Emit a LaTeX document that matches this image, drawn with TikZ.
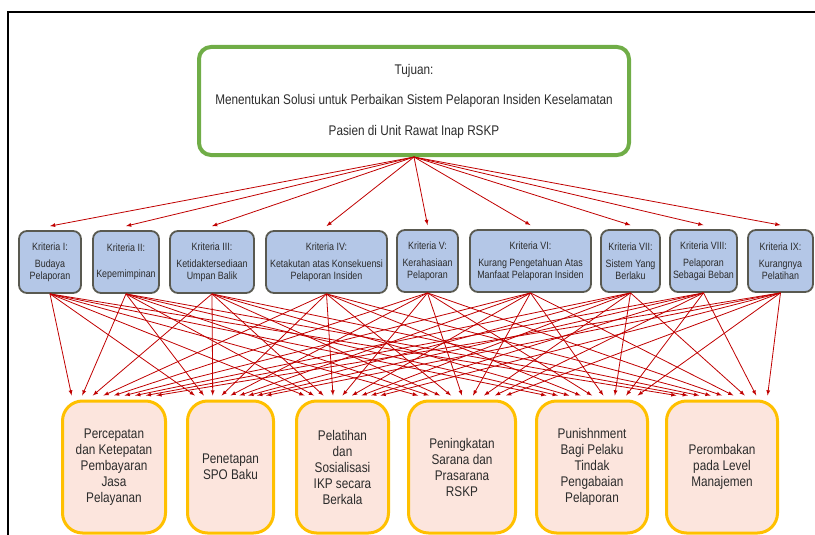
\documentclass[tikz,border=0pt]{standalone}
\usepackage{fontspec}
\setmainfont[FakeStretch=0.84]{Liberation Sans}
\usetikzlibrary{calc}
\definecolor{hijau}{HTML}{70AD47}
\definecolor{biru}{HTML}{B4C7E7}
\definecolor{abu}{HTML}{595950}
\definecolor{oranye}{HTML}{FFC000}
\definecolor{merahmuda}{HTML}{FCE5DD}
\definecolor{merah}{HTML}{C00000}
\definecolor{teks}{HTML}{2B2B2B}
\begin{document}
\begin{tikzpicture}[x=1pt,y=-1pt]
	\tikzset{
		every node/.style={text=teks,align=center},
		%
		tujuan/.style={draw=hijau,line width=4pt,rounded corners=12pt,minimum width=430pt,minimum height=108pt,font=\fontsize{14}{30.5}\selectfont},
		% kriteria
		kriteria/.style={draw=abu,fill=biru,line width=1.8pt,rounded corners=8pt,minimum height=62pt,inner sep=1pt,font=\fontsize{10.6}{11.5}\selectfont},
		% solusi
		solusi/.style={draw=oranye,fill=merahmuda,line width=3pt,rounded corners=20pt,minimum height=132pt,inner sep=1pt,font=\fontsize{14}{16}\selectfont},
		%
		panah/.style={draw=merah,line width=0.8pt,-latex},
	}
	\useasboundingbox (0,0) rectangle (815,535);
	\draw[line width=1.5pt] (8,535)--(8,12)--(815,12);
	%
	\node[tujuan] (tujuan) at (414,101) {Tujuan:\\Menentukan Solusi untuk Perbaikan Sistem Pelaporan Insiden Keselamatan\\Pasien di Unit Rawat Inap RSKP};
	%
	\node[kriteria,minimum width=62pt] (k1) at (50,262) {Kriteria I:\\[6pt]Budaya\\Pelaporan};
	\node[kriteria,minimum width=66pt] (k2) at (126,262) {Kriteria II:\\[14pt]Kepemimpinan};
	\node[kriteria,minimum width=84pt] (k3) at (212,262) {Kriteria III:\\[6pt]Ketidaktersediaan\\Umpan Balik};
	\node[kriteria,minimum width=121pt] (k4) at (326.5,262) {Kriteria IV:\\[6pt]Ketakutan atas Konsekuensi\\Pelaporan Insiden};
	\node[kriteria,minimum width=61pt] (k5) at (427.5,261) {Kriteria V:\\[6pt]Kerahasiaan\\Pelaporan};
	\node[kriteria,minimum width=121pt] (k6) at (530.5,261) {Kriteria VI:\\[6pt]Kurang Pengetahuan Atas\\Manfaat Pelaporan Insiden};
	\node[kriteria,minimum width=59pt] (k7) at (630.5,261) {Kriteria VII:\\[6pt]Sistem Yang\\Berlaku};
	\node[kriteria,minimum width=67pt] (k8) at (703.5,261) {Kriteria VIII:\\[6pt]Pelaporan\\Sebagai Beban};
	\node[kriteria,minimum width=65pt] (k9) at (780.5,261) {Kriteria IX:\\[6pt]Kurangnya\\Pelatihan};
	%
	\node[solusi,minimum width=103pt] (b1) at (114,467) {Percepatan\\dan Ketepatan\\Pembayaran\\Jasa\\Pelayanan};
	\node[solusi,minimum width=86pt] (b2) at (230.5,467) {Penetapan\\SPO Baku};
	\node[solusi,minimum width=92pt] (b3) at (342.5,467) {Pelatihan\\dan\\Sosialisasi\\IKP secara\\Berkala};
	\node[solusi,minimum width=107pt] (b4) at (462,467) {Peningkatan\\Sarana dan\\Prasarana\\RSKP};
	\node[solusi,minimum width=111pt] (b5) at (592,467) {Punishnment\\Bagi Pelaku\\Tindak\\Pengabaian\\Pelaporan};
	\node[solusi,minimum width=111pt] (b6) at (722,467) {Perombakan\\pada Level\\Manajemen};
	%
	\foreach \i in {1,...,9}
		\draw[panah] (tujuan.south)--($(k\i.north)+(0,-4)$);
	\foreach \i in {1,...,9}
		\foreach \j in {1,...,6}
			\draw[panah] (k\i.south)--($(b\j.north west)!0.1*\i!(b\j.north east)+(0,-4)$);
\end{tikzpicture}
\end{document}
